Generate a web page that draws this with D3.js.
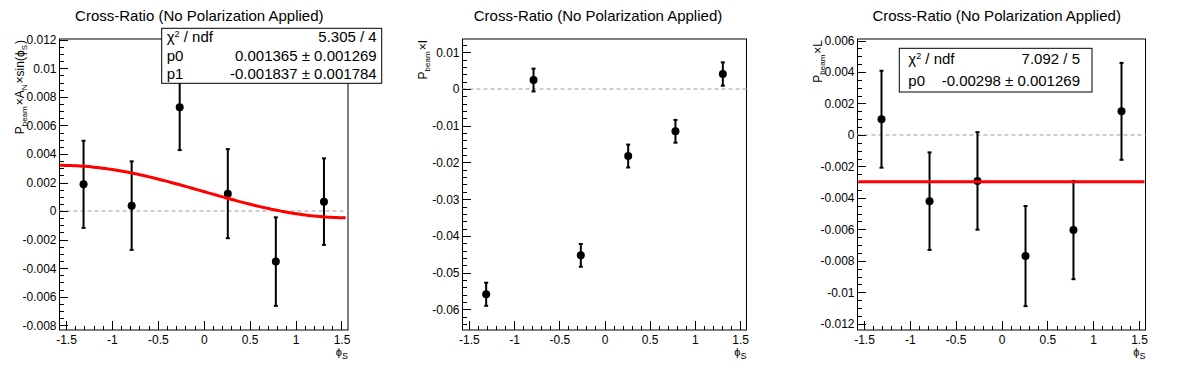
<!DOCTYPE html>
<html>
<head>
<meta charset="utf-8">
<script src="https://cdn.jsdelivr.net/npm/d3@7"></script>
<style>
  body { margin: 0; background: #fff; }
  text { font-family: "Liberation Sans", Arial, Helvetica, sans-serif; }
</style>
</head>
<body>
<script>
var width = 1196,
    height = 372;

/* ============================ DATA ============================ */
// phi_S bin centres (same for all three pads)
var phiS = [-1.309, -0.785, -0.262, 0.262, 0.785, 1.309];

// pad 1 : P_beam x A_N x sin(phi_S)
var valAN = [0.00187, 0.00038, 0.00727, 0.00122, -0.00354, 0.00066];
var errAN = [0.00305, 0.00310, 0.00300, 0.00312, 0.00310, 0.00303];

// pad 2 : P_beam x I
var valI = [-0.0559, 0.00245, -0.0453, -0.01825, -0.01152, 0.00408];
var errI = [0.00315, 0.00310, 0.00310, 0.00312, 0.00310, 0.00318];

// pad 3 : P_beam x L
var valL = [0.00100, -0.00421, -0.00292, -0.00770, -0.00605, 0.00150];
var errL = [0.00308, 0.00310, 0.00310, 0.00318, 0.00312, 0.00308];

// fits : p0 + p1*sin(phi) and p0
var fitSinPars = [0.001365, -0.001837];
var fitConstPars = [-0.00298];

var statsSin = [["χ", "2", " / ndf", "5.305 / 4"],
                ["p0", "", "", "0.001365 ± 0.001269"],
                ["p1", "", "", "-0.001837 ± 0.001784"]];
var statsConst = [["χ", "2", " / ndf", "7.092 / 5"],
                  ["p0", "", "", "-0.00298 ± 0.001269"]];

var xDomain = [-Math.PI / 2, Math.PI / 2];
var xMajor = [-1.5, -1, -0.5, 0, 0.5, 1, 1.5];

var yDomains = [[-0.00833, 0.01205], [-0.06563, 0.01362], [-0.0124, 0.0061]];
var yMajorStep = [0.002, 0.01, 0.002];
var yMinorDiv = [4, 5, 4];

/* ============================ LAYOUT ============================ */
var pads = [
  { x0: 0, left: 59.5, right: 348, title: [["P", "beam"], ["×A", "N"], ["×sin(ϕ", "S"], [")", ""]],
    val: valAN, err: errAN, fit: "sin", fitRange: [-1.5708, 1.545],
    stats: statsSin, box: [161.7, 28.3, 381.7, 83.3], pad: [5, 5] },
  { x0: 398.67, left: 462.5, right: 746.5, title: [["P", "beam"], ["×I", ""]],
    val: valI, err: errI, fit: null,
    stats: null },
  { x0: 797.33, left: 857.5, right: 1145.5, title: [["P", "beam"], ["×L", ""]],
    val: valL, err: errL, fit: "const", fitRange: [-1.56, 1.56],
    stats: statsConst, box: [899.3, 48.3, 1092, 92], pad: [9, 12] }
];
var frameTop = 39, frameBottom = 330, padW = width / 3;

var svg = d3.select('body').append('svg')
    .attr('width', width)
    .attr('height', height);

function ticksOf(dom, step) {
  var out = [];
  var k0 = Math.ceil(dom[0] / step - 1e-9), k1 = Math.floor(dom[1] / step + 1e-9);
  for (var k = k0; k <= k1; k++) out.push(+(k * step).toFixed(8));
  return out;
}
function fmt(d) { return String(+d.toFixed(6)); }

pads.forEach(function(p, i) {
  var g = svg.append('g');
  var x = d3.scaleLinear().domain(xDomain).range([p.left, p.right]);
  var y = d3.scaleLinear().domain(yDomains[i]).range([frameBottom, frameTop]);

  // title
  g.append('text')
      .attr('x', p.x0 + padW / 2)
      .attr('y', 21)
      .attr('text-anchor', 'middle')
      .style('font-size', '15px')
      .text('Cross-Ratio (No Polarization Applied)');

  // frame
  g.append('rect')
      .attr('x', p.left).attr('y', frameTop)
      .attr('width', p.right - p.left).attr('height', frameBottom - frameTop)
      .attr('fill', 'none').attr('stroke', '#000').attr('stroke-width', 1);

  // zero line
  g.append('line')
      .attr('x1', p.left).attr('x2', p.right)
      .attr('y1', y(0)).attr('y2', y(0))
      .attr('stroke', '#bdbdbd').attr('stroke-width', 1.5)
      .attr('stroke-dasharray', '4,3');

  // axes
  var yMaj = ticksOf(yDomains[i], yMajorStep[i]);
  var yMin = ticksOf(yDomains[i], yMajorStep[i] / yMinorDiv[i]);
  var xMin = ticksOf(xDomain, 0.1);

  var ya = g.append('g').attr('transform', 'translate(' + p.left + ',0)')
      .call(d3.axisLeft(y).tickValues(yMaj).tickSizeInner(-8).tickSizeOuter(0).tickPadding(3).tickFormat(fmt));
  var yb = g.append('g').attr('transform', 'translate(' + p.left + ',0)')
      .call(d3.axisLeft(y).tickValues(yMin).tickSizeInner(-4).tickSizeOuter(0).tickFormat(''));
  var xa = g.append('g').attr('transform', 'translate(0,' + frameBottom + ')')
      .call(d3.axisBottom(x).tickValues(xMajor).tickSizeInner(-9).tickSizeOuter(0).tickPadding(5).tickFormat(fmt));
  var xb = g.append('g').attr('transform', 'translate(0,' + frameBottom + ')')
      .call(d3.axisBottom(x).tickValues(xMin).tickSizeInner(-4).tickSizeOuter(0).tickFormat(''));
  [ya, yb, xa, xb].forEach(function(a) {
    a.select('.domain').remove();
    a.attr('font-family', null).attr('font-size', null);
    a.selectAll('line').attr('stroke', '#000').attr('shape-rendering', 'crispEdges');
    a.selectAll('text').style('font-size', '12px').attr('fill', '#000');
  });
  yb.selectAll('text').remove();
  xb.selectAll('text').remove();

  // y axis title
  var yt = g.append('text')
      .attr('transform', 'translate(' + (p.left - 36) + ',' + (frameTop + 1) + ') rotate(-90)')
      .attr('text-anchor', 'end')
      .style('font-size', '12px');
  p.title.forEach(function(t) {
    yt.append('tspan').text(t[0]);
    if (t[1]) {
      yt.append('tspan').attr('dy', 3).style('font-size', '8px').text(t[1]);
      yt.append('tspan').attr('dy', -3).text('\u200a');
    }
  });

  // x axis title
  var xt = g.append('text')
      .attr('x', p.right).attr('y', 356)
      .attr('text-anchor', 'end')
      .style('font-size', '11px');
  xt.append('tspan').text('ϕ');
  xt.append('tspan').attr('dy', 3).style('font-size', '9px').text('S');

  // data points with error bars
  var pts = g.selectAll('.pt')
      .data(phiS.map(function(v, j) { return { x: v, y: p.val[j], e: p.err[j] }; }))
    .enter().append('g')
      .attr('class', 'pt');
  pts.append('line')
      .attr('x1', function(d) { return x(d.x); }).attr('x2', function(d) { return x(d.x); })
      .attr('y1', function(d) { return y(d.y - d.e); }).attr('y2', function(d) { return y(d.y + d.e); })
      .attr('stroke', '#000').attr('stroke-width', 2);
  [-1, 1].forEach(function(s) {
    pts.append('line')
        .attr('x1', function(d) { return x(d.x) - 2; }).attr('x2', function(d) { return x(d.x) + 2; })
        .attr('y1', function(d) { return y(d.y + s * d.e); }).attr('y2', function(d) { return y(d.y + s * d.e); })
        .attr('stroke', '#000').attr('stroke-width', 2);
  });
  pts.append('circle')
      .attr('cx', function(d) { return x(d.x); })
      .attr('cy', function(d) { return y(d.y); })
      .attr('r', 4)
      .attr('fill', '#000');

  // fit function
  if (p.fit) {
    var f = p.fit === 'sin'
      ? function(v) { return fitSinPars[0] + fitSinPars[1] * Math.sin(v); }
      : function(v) { return fitConstPars[0]; };
    var xs = d3.range(0, 101).map(function(k) { return p.fitRange[0] + k * (p.fitRange[1] - p.fitRange[0]) / 100; });
    g.append('path')
        .datum(xs)
        .attr('d', d3.line().x(function(v) { return x(v); }).y(function(v) { return y(f(v)); }))
        .attr('fill', 'none').attr('stroke', '#ff0000').attr('stroke-width', 3);
  }

  // stats box
  if (p.stats) {
    var b = p.box, n = p.stats.length, rh = (b[3] - b[1]) / n;
    g.append('rect')
        .attr('x', b[0]).attr('y', b[1])
        .attr('width', b[2] - b[0]).attr('height', b[3] - b[1])
        .attr('fill', '#fff').attr('stroke', '#000').attr('stroke-width', 1);
    p.stats.forEach(function(r, k) {
      var cy = b[1] + rh * (k + 0.5) + 5;
      var lab = g.append('text').attr('x', b[0] + p.pad[0]).attr('y', cy).style('font-size', '15px');
      lab.append('tspan').text(r[0]);
      if (r[1]) lab.append('tspan').attr('dy', -5).style('font-size', '9px').text(r[1]);
      if (r[2]) lab.append('tspan').attr('dy', 5).text(r[2]);
      g.append('text').attr('x', b[2] - p.pad[1]).attr('y', cy)
          .attr('text-anchor', 'end').style('font-size', '15px').text(r[3]);
    });
  }
});
</script>
</body>
</html>
